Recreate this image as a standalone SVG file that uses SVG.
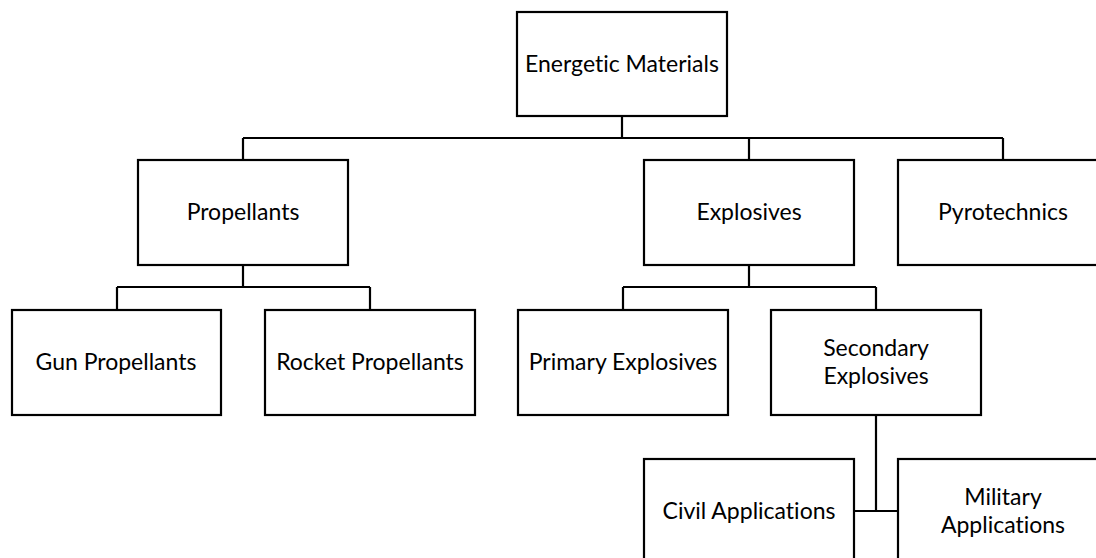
<svg xmlns="http://www.w3.org/2000/svg" width="1096" height="558" viewBox="0 0 1096 558">
<style>
.box{fill:#fff;stroke:#000;stroke-width:2.2}
.lbl{font-family:Lato,"Open Sans",sans-serif;font-size:23px;fill:#000;text-anchor:middle;font-variant-ligatures:none;font-feature-settings:"liga" 0}
.con{fill:none;stroke:#000;stroke-width:2.2}
</style>
<rect width="1096" height="558" fill="#fff"/>
<g id="connectors">
<path class="con" d="M622,116V138M243,138H1003M243,138V160M749,138V160M1003,138V160"/>
<path class="con" d="M243,265V287M117,287H370M117,287V310M370,287V310"/>
<path class="con" d="M749,265V287M623,287H876M623,287V310M876,287V310"/>
<path class="con" d="M876,415V511M854,511H898"/>
</g>
<g id="energetic"><rect class="box" x="517" y="12" width="210" height="104"/><text class="lbl" x="622" y="72">Energetic Materials</text></g>
<g id="propellants"><rect class="box" x="138" y="160" width="210" height="105"/><text class="lbl" x="243" y="220">Propellants</text></g>
<g id="explosives"><rect class="box" x="644" y="160" width="210" height="105"/><text class="lbl" x="749" y="220">Explosives</text></g>
<g id="pyrotechnics"><rect class="box" x="898" y="160" width="210" height="105"/><text class="lbl" x="1003" y="220">Pyrotechnics</text></g>
<g id="gun"><rect class="box" x="12" y="310" width="209" height="105"/><text class="lbl" x="116" y="370">Gun Propellants</text></g>
<g id="rocket"><rect class="box" x="265" y="310" width="210" height="105"/><text class="lbl" x="370" y="370">Rocket Propellants</text></g>
<g id="primary"><rect class="box" x="518" y="310" width="210" height="105"/><text class="lbl" x="623" y="370">Primary Explosives</text></g>
<g id="secondary"><rect class="box" x="771" y="310" width="210" height="105"/><text class="lbl" x="876" y="356">Secondary</text><text class="lbl" x="876" y="384">Explosives</text></g>
<g id="civil"><rect class="box" x="644" y="459" width="210" height="105"/><text class="lbl" x="749" y="519">Civil Applications</text></g>
<g id="military"><rect class="box" x="898" y="459" width="210" height="105"/><text class="lbl" x="1003" y="505">Military</text><text class="lbl" x="1003" y="533">Applications</text></g>
</svg>
